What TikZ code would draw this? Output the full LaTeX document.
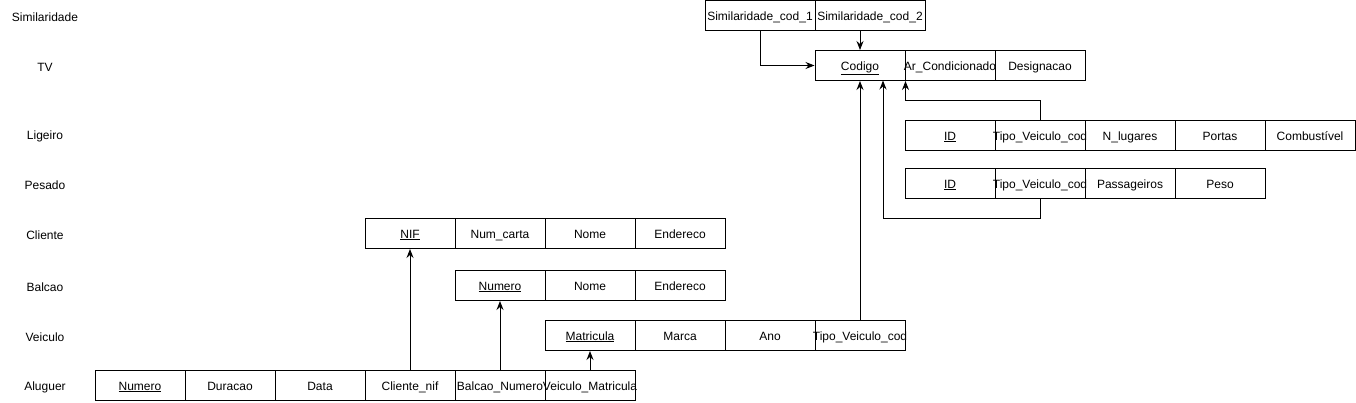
\documentclass[tikz,border=0pt]{standalone}
\usepackage{fontspec}
\setmainfont{Liberation Sans}
\usetikzlibrary{arrows.meta}
\newcommand{\fsz}{\fontsize{12}{14}\selectfont}
\newcommand{\ul}[1]{\underline{#1}}
\tikzset{
  cell/.style={draw, line width=1pt, minimum width=90pt, minimum height=30pt, inner sep=0pt, font=\fsz},
  wcell/.style={cell, minimum width=110pt},
  lbl/.style={font=\fsz, inner sep=0pt},
  fk/.style={-{Stealth[length=9pt,width=7pt,inset=3pt]}, line width=1pt},
}
\newcommand{\cl}[1]{\makebox[0pt]{\raisebox{-4.6pt}[0pt][0pt]{#1}}}
\begin{document}
\begin{tikzpicture}[x=1pt,y=-1pt]
\useasboundingbox (0,0) rectangle (1356,402);
% left labels
\node[lbl] (lsim) at (45,17) {Similaridade};
\node[lbl] (ltv) at (45,67) {TV};
\node[lbl] (llig) at (45,136) {Ligeiro};
\node[lbl] (lpes) at (45,185) {Pesado};
\node[lbl] (lcli) at (45,235) {Cliente};
\node[lbl] (lbal) at (45,287) {Balcao};
\node[lbl] (lvei) at (45,337) {Veiculo};
\node[lbl] (lalu) at (45,387) {Aluguer};
% Similaridade
\node[wcell] (s1) at (760,15.5) {\cl{Similaridade\_cod\_1}};
\node[wcell] (s2) at (870,15.5) {\cl{Similaridade\_cod\_2}};
% TV
\node[cell] (cod) at (860,65.5) {\cl{\ul{Codigo}}};
\node[cell] (ar) at (950,65.5) {\cl{Ar\_Condicionado}};
\node[cell] (des) at (1040,65.5) {\cl{Designacao}};
% Ligeiro
\node[cell] (lid) at (950,135.5) {\cl{\ul{ID}}};
\node[cell] (lt) at (1040,135.5) {\cl{Tipo\_Veiculo\_cod}};
\node[cell] (lnl) at (1130,135.5) {\cl{N\_lugares}};
\node[cell] (lpo) at (1220,135.5) {\cl{Portas}};
\node[cell] (lco) at (1310,135.5) {\cl{Combustível}};
% Pesado
\node[cell] (pid) at (950,183.5) {\cl{\ul{ID}}};
\node[cell] (pt) at (1040,183.5) {\cl{Tipo\_Veiculo\_cod}};
\node[cell] (ppa) at (1130,183.5) {\cl{Passageiros}};
\node[cell] (ppe) at (1220,183.5) {\cl{Peso}};
% Cliente
\node[cell] (nif) at (410,233.5) {\cl{\ul{NIF}}};
\node[cell] (cnc) at (500,233.5) {\cl{Num\_carta}};
\node[cell] (cno) at (590,233.5) {\cl{Nome}};
\node[cell] (cen) at (680,233.5) {\cl{Endereco}};
% Balcao
\node[cell] (bnu) at (500,285.5) {\cl{\ul{Numero}}};
\node[cell] (bno) at (590,285.5) {\cl{Nome}};
\node[cell] (ben) at (680,285.5) {\cl{Endereco}};
% Veiculo
\node[cell] (vma) at (590,335.5) {\cl{\ul{Matricula}}};
\node[cell] (vmr) at (680,335.5) {\cl{Marca}};
\node[cell] (van) at (770,335.5) {\cl{Ano}};
\node[cell] (vt) at (860,335.5) {\cl{Tipo\_Veiculo\_cod}};
% Aluguer
\node[cell] (anu) at (140,385.5) {\cl{\ul{Numero}}};
\node[cell] (adu) at (230,385.5) {\cl{Duracao}};
\node[cell] (ada) at (320,385.5) {\cl{Data}};
\node[cell] (acn) at (410,385.5) {\cl{Cliente\_nif}};
\node[cell] (abn) at (500,385.5) {\cl{Balcao\_Numero}};
\node[cell] (avm) at (590,385.5) {\cl{Veiculo\_Matricula}};
% connectors
\coordinate (lbend) at (1040,100);
\coordinate (pbend) at (1040,218);
\coordinate (codp) at (883,80.5);
\draw[fk] (s1.south) |- (cod.west);
\draw[fk] (cod.north |- s2.south) -- (cod.north);
\draw[fk] (vt.north) -- (cod.south);
\draw[fk] (lt.north) -- (lbend) -| (cod.south east);
\draw[fk] (pt.south) -- (pbend) -| (codp);
\draw[fk] (acn.north) -- (nif.south);
\draw[fk] (abn.north) -- (bnu.south);
\draw[fk] (avm.north) -- (vma.south);
\end{tikzpicture}
\end{document}
